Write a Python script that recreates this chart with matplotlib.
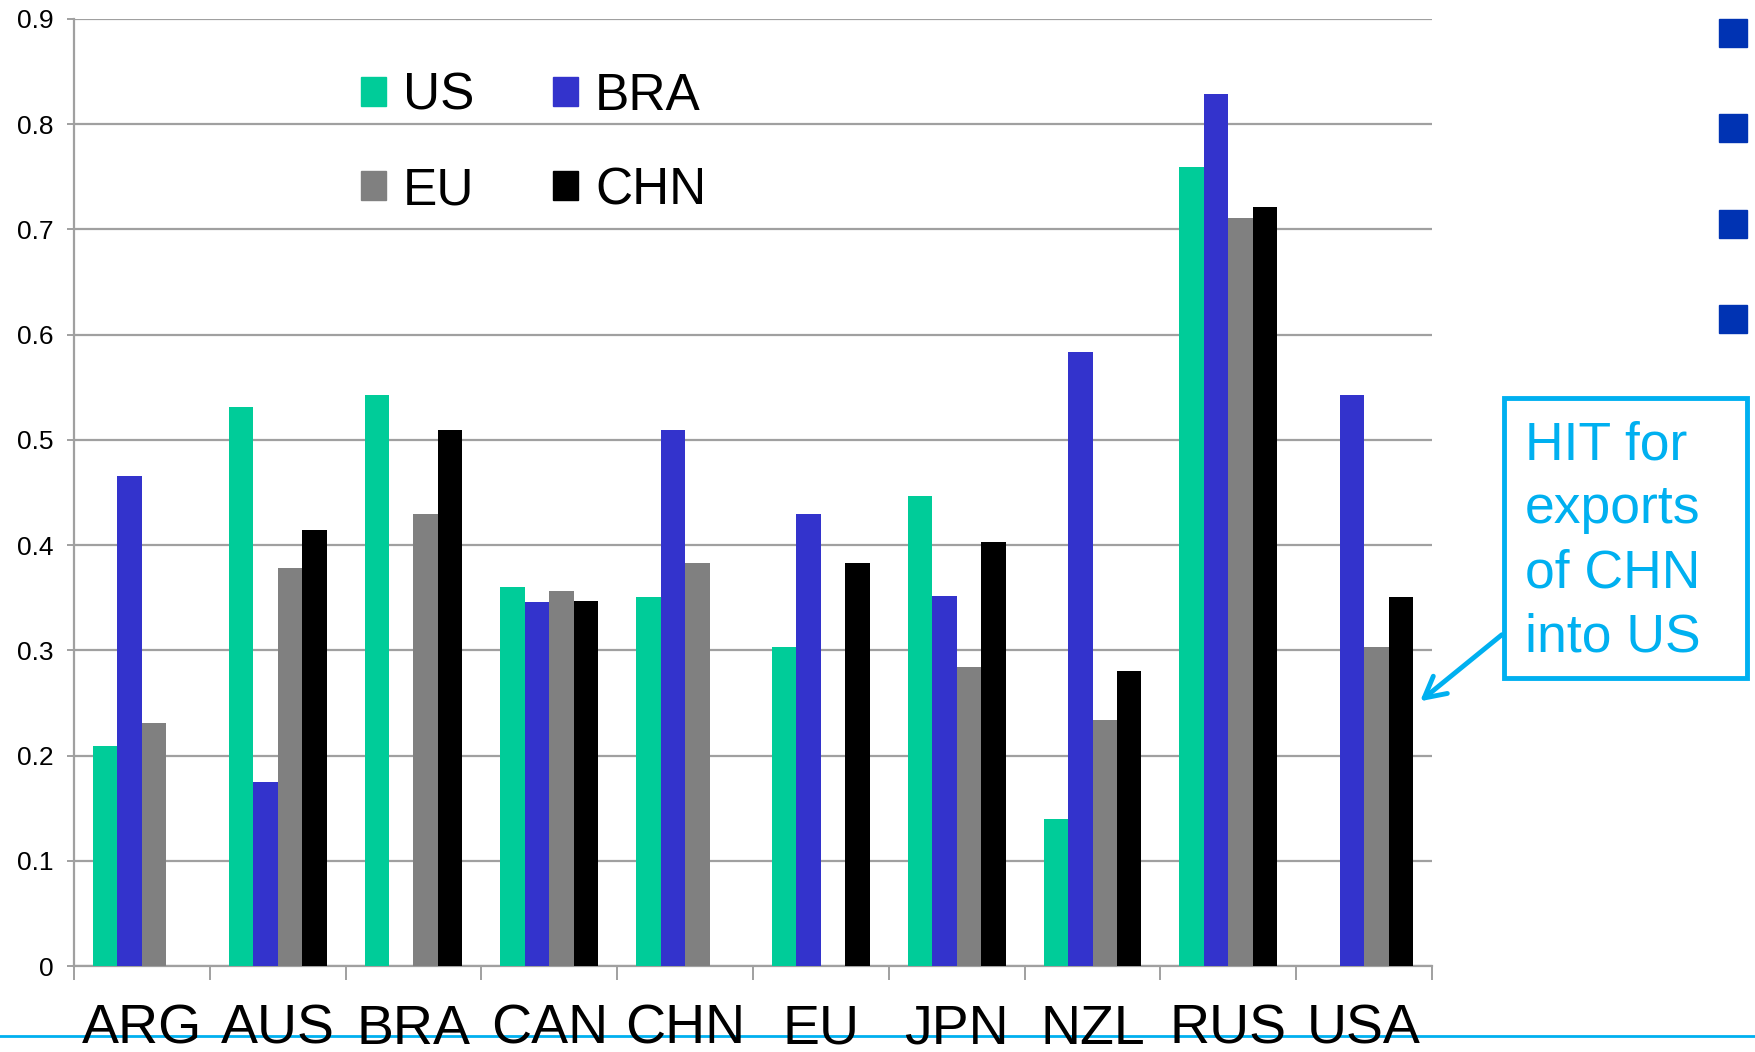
import matplotlib
matplotlib.use("Agg")
import matplotlib.pyplot as plt
import numpy as np
from matplotlib.patches import Rectangle, FancyArrowPatch
from matplotlib.lines import Line2D

nan = np.nan
countries = ["ARG", "AUS", "BRA", "CAN", "CHN", "EU", "JPN", "NZL", "RUS", "USA"]
series = ["US", "BRA", "EU", "CHN"]
us  = [0.209, 0.531, 0.543, 0.360, 0.351, 0.303, 0.447, 0.140, 0.759, nan]
bra = [0.466, 0.175, nan,   0.346, 0.509, 0.430, 0.352, 0.584, 0.829, 0.543]
eu  = [0.231, 0.378, 0.430, 0.356, 0.383, nan,   0.284, 0.234, 0.711, 0.303]
chn = [nan,   0.414, 0.509, 0.347, nan,   0.383, 0.403, 0.280, 0.721, 0.351]
colors = ["#00CC99", "#3333CC", "#808080", "#000000"]
yticks = [0, 0.1, 0.2, 0.3, 0.4, 0.5, 0.6, 0.7, 0.8, 0.9]

narrow = ["Liberation Sans Narrow", "Liberation Sans", "DejaVu Sans"]
plain = ["Liberation Sans", "DejaVu Sans"]

W, H = 1756, 1052
fig = plt.figure(figsize=(W / 100, H / 100), dpi=100)
ax = fig.add_axes([74 / W, 1 - 966 / H, (1432 - 74) / W, (966 - 19) / H])

x = np.arange(len(countries))
w = 0.18
for i, (vals, c, name) in enumerate(zip([us, bra, eu, chn], colors, series)):
    ax.bar(x + (i - 1.5) * w, vals, width=w, color=c, label=name, zorder=3)

ax.set_xlim(-0.5, len(countries) - 0.5)
ax.set_ylim(0, 0.9)
ax.set_yticks(yticks)
ax.set_yticklabels(["0" if v == 0 else f"{v:.1f}" for v in yticks])
ax.yaxis.grid(True, color="#A0A0A0", linewidth=1.6, zorder=0)
ax.set_axisbelow(True)
for s in ["top", "right"]:
    ax.spines[s].set_visible(False)
for s in ["left", "bottom"]:
    ax.spines[s].set_color("#A0A0A0")
    ax.spines[s].set_linewidth(1.6)

ax.set_xticks(x)
ax.set_xticklabels(countries, family=narrow, fontsize=40)
ax.set_xticks(np.arange(len(countries) + 1) - 0.5, minor=True)
ax.tick_params(axis="x", which="major", length=0, pad=27)
ax.tick_params(axis="x", which="minor", length=10, width=1.4, color="#A0A0A0")
ax.tick_params(axis="y", length=5, width=1.4, color="#A0A0A0", pad=10, labelsize=19)
for t in ax.get_yticklabels():
    t.set_family(narrow)

# legend filled column by column, so reorder to get US/BRA on top row
handles = [Rectangle((0, 0), 1, 1, color=c) for c in colors]
order = [0, 2, 1, 3]
ax.legend([handles[k] for k in order], [series[k] for k in order], ncol=2,
          loc="upper left", bbox_to_anchor=(0.177, 0.993),
          frameon=False, prop={"family": narrow, "size": 37},
          handlelength=0.49, handleheight=0.49, handletextpad=0.33,
          columnspacing=1.53, labelspacing=0.88)

# slide decorations: bullets on the right
for y0 in [19, 114, 210, 305]:
    fig.patches.append(Rectangle((1719 / W, 1 - (y0 + 28) / H), 28 / W, 28 / H,
                                 transform=fig.transFigure, color="#0033B3"))

# callout box
cyan = "#00B0F0"
fig.patches.append(Rectangle((1504 / W, 1 - 678 / H), (1747 - 1504) / W, (678 - 398) / H,
                             transform=fig.transFigure, fill=False, edgecolor=cyan,
                             linewidth=3.5))
fig.text(1525 / W, 1 - 420 / H, "HIT for\nexports\nof CHN\ninto US", color=cyan,
         fontsize=38.5, family=plain, va="top", ha="left", linespacing=1.36)
fig.patches.append(FancyArrowPatch((1504 / W, 1 - 633 / H), (1418 / W, 1 - 703 / H),
                                   transform=fig.transFigure, color=cyan, linewidth=3.5,
                                   arrowstyle="->,head_length=15,head_width=8"))

fig.add_artist(Line2D([0, 1], [1 - 1036 / H] * 2, transform=fig.transFigure,
                      color=cyan, linewidth=2, zorder=0))

fig.savefig("out.png", dpi=100)
